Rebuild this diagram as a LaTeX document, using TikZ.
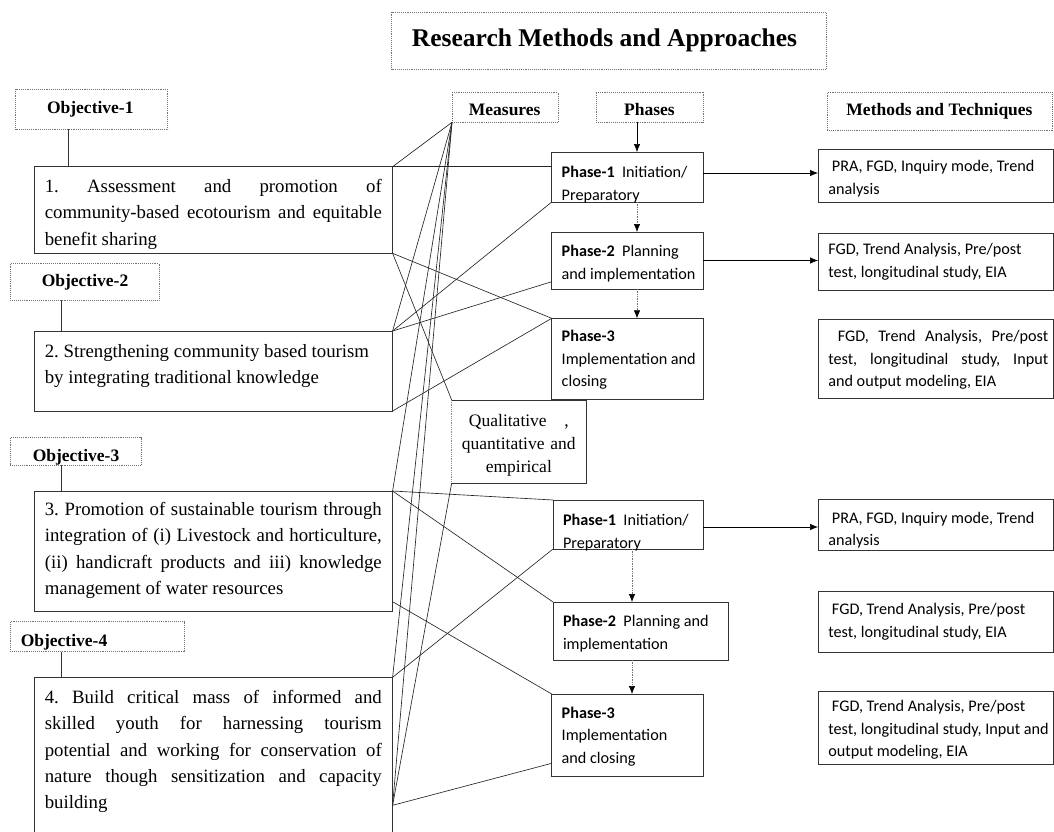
\documentclass[tikz,border=0pt]{standalone}
\usepackage{fontspec}
\setmainfont{Liberation Serif}
\newfontfamily\calfont{Carlito}
\usetikzlibrary{arrows.meta,calc}
\frenchspacing
\begin{document}
\frenchspacing
\begin{tikzpicture}[x=1pt,y=-1pt,
  dotbox/.style={draw=black!55, densely dotted, line width=0.9pt, inner sep=0pt, outer sep=0pt, anchor=north west},
  solbox/.style={draw=black!80, line width=0.9pt, inner sep=0pt, outer sep=0pt, anchor=north west},
  bodytxt/.style={inner sep=0pt, outer sep=0pt, anchor=north west, font=\fontsize{18.8}{26.3}\selectfont\frenchspacing},
  caltxt/.style={inner sep=0pt, outer sep=0pt, anchor=north west, align=flush left, font=\calfont\fontsize{16.2}{22.5}\selectfont},
  lbl/.style={inner sep=0pt, font=\fontsize{17.5}{20}\selectfont\bfseries},
  link/.style={line width=0.65pt, black!85},
  flow/.style={line width=0.7pt, -{Latex[length=8pt,width=6.5pt]}},
  dflow/.style={line width=0.7pt, black!55, densely dotted, -{Latex[length=8pt,width=6.5pt,black]}}
]
\useasboundingbox (0,0) rectangle (1054,831);
\fill[white] (0,0) rectangle (1054,831);

% header boxes
\node[dotbox, minimum width=434.5pt, minimum height=57pt] (title) at (391.5,12.3) {};
\node[inner sep=0pt, font=\fontsize{25.5}{30}\selectfont\bfseries] (titletxt) at (604.5,40) {Research Methods and Approaches};
\node[dotbox, minimum width=106pt, minimum height=30pt] (meas) at (452,92.3) {};
\node[lbl] (meastxt) at (504.7,109.5) {Measures};
\node[dotbox, minimum width=107pt, minimum height=30pt] (phases) at (596,92.3) {};
\node[lbl] (phasestxt) at (649.5,109.5) {Phases};
\node[dotbox, minimum width=225pt, minimum height=38pt] (meth) at (827,92.3) {};
\node[lbl] (methtxt) at (939.5,111) {Methods and Techniques};

% objectives
\node[dotbox, minimum width=152.2pt, minimum height=40pt] (obj1) at (15.5,89.3) {};
\node[lbl] (obj1txt) at (90.3,109) {Objective-1};
\node[dotbox, minimum width=148.7pt, minimum height=36.7pt] (obj2) at (10.3,263.3) {};
\node[lbl] (obj2txt) at (85,282) {Objective-2};
\node[dotbox, minimum width=130.7pt, minimum height=27.3pt] (obj3) at (10.3,437.7) {};
\node[lbl] (obj3txt) at (76,457) {Objective-3};
\node[dotbox, minimum width=173.7pt, minimum height=30pt] (obj4) at (10.3,621.7) {};
\node[lbl] (obj4txt) at (64,642) {Objective-4};

\node[solbox, minimum width=358.2pt, minimum height=86.6pt] (b1) at (34.4,166.7) {};
\node[solbox, minimum width=358.2pt, minimum height=80pt] (b2) at (34.4,331) {};
\node[solbox, minimum width=358.2pt, minimum height=120.7pt] (b3) at (34.4,491) {};
\node[solbox, minimum width=358.2pt, minimum height=155pt] (b4) at (34.4,677.3) {};

\node[bodytxt, text width=337pt, align=justify] (t1) at (44.8,174.2) {\strut 1. Assessment and promotion of\linebreak community-based ecotourism and equitable\linebreak benefit sharing};
\node[bodytxt, text width=337pt, align=flush left] (t2) at (44.8,338.9) {\strut 2. Strengthening community based tourism\\by integrating traditional knowledge};
\node[bodytxt, text width=337pt, align=justify] (t3) at (44.8,497.2) {\strut 3. Promotion of sustainable tourism through\linebreak integration of (i) Livestock and horticulture,\linebreak (ii) handicraft products and iii) knowledge\linebreak management of water resources};
\node[bodytxt, text width=337pt, align=justify] (t4) at (44.8,685.2) {\strut 4. Build critical mass of informed and\linebreak skilled youth for harnessing tourism\linebreak potential and working for conservation of\linebreak nature though sensitization and capacity\linebreak building};

\coordinate (o1x) at (68,0);
\coordinate (o2x) at (61.3,0);
\draw[line width=0.9pt, black!80] (obj1.south -| o1x) -- (b1.north -| o1x);
\draw[line width=0.9pt, black!80] (obj2.south -| o2x) -- (b2.north -| o2x);
\draw[line width=0.9pt, black!80] (obj3.south -| o2x) -- (b3.north -| o2x);
\draw[line width=0.9pt, black!80] (obj4.south -| o2x) -- (b4.north -| o2x);

% phases (upper)
\node[solbox, minimum width=151.3pt, minimum height=50pt] (ph1) at (551.7,152) {};
\node[solbox, minimum width=151.3pt, minimum height=57pt] (ph2) at (551.7,232) {};
\node[solbox, minimum width=151.3pt, minimum height=81pt] (ph3) at (551.7,318.3) {};
\node[caltxt, text width=140pt] (ph1t) at (561.7,161.9) {\strut\textbf{Phase-1}\ \ Initiation/\\Preparatory};
\node[caltxt, text width=140pt] (ph2t) at (561.7,240.9) {\strut\textbf{Phase-2}\ \ Planning\\and implementation};
\node[caltxt, text width=140pt] (ph3t) at (561.7,325.9) {\strut\textbf{Phase-3}\\Implementation and\\closing};

% qualitative box
\node[inner sep=0pt, outer sep=0pt, anchor=north west, minimum width=134.3pt, minimum height=83pt] (qual) at (451.7,400) {};
\draw[line width=0.9pt, black!80] (qual.south west) -- (qual.south east) -- (qual.north east) -- (qual.north west);
\draw[line width=0.8pt, black!45, densely dotted] (qual.north west) -- (qual.south west);
\node[inner sep=0pt, outer sep=0pt, anchor=north, text width=134pt, align=center, font=\fontsize{17.5}{23}\selectfont] (qualt) at (518.8,410.2) {\strut Qualitative\quad ,\\quantitative and\\empirical};

% phases (lower)
\node[solbox, minimum width=150pt, minimum height=49pt] (ph1b) at (553,500) {};
\node[solbox, minimum width=175pt, minimum height=58pt] (ph2b) at (553,602) {};
\node[solbox, minimum width=151.3pt, minimum height=82pt] (ph3b) at (551.7,694) {};
\node[caltxt, text width=140pt] (ph1bt) at (563,509.9) {\strut\textbf{Phase-1}\ \ Initiation/\\Preparatory};
\node[caltxt, text width=165pt] (ph2bt) at (563,610.9) {\strut\textbf{Phase-2}\ \ Planning and\\implementation};
\node[caltxt, text width=140pt] (ph3bt) at (561.7,702.5) {\strut\textbf{Phase-3}\\Implementation\\and closing};

% methods boxes
\node[solbox, minimum width=235pt, minimum height=53pt] (m1) at (818,149) {};
\node[solbox, minimum width=235pt, minimum height=57pt] (m2) at (818,233) {};
\node[solbox, minimum width=235pt, minimum height=79pt] (m3) at (818,319.3) {};
\node[solbox, minimum width=235pt, minimum height=51pt] (m1b) at (818,499) {};
\node[solbox, minimum width=235pt, minimum height=61pt] (m2b) at (818,591) {};
\node[solbox, minimum width=235pt, minimum height=73pt] (m3b) at (818,691) {};
\node[caltxt, text width=226pt] (m1t) at (828.3,155.9) {\strut\ PRA, FGD, Inquiry mode, Trend\\analysis};
\node[caltxt, text width=226pt] (m2t) at (828.3,239.2) {\strut FGD, Trend Analysis, Pre/post\\test, longitudinal study, EIA};
\node[caltxt, text width=220pt, align=justify] (m3t) at (828.3,325.9) {\strut\ FGD, Trend Analysis, Pre/post\linebreak test, longitudinal study, Input\linebreak and output modeling, EIA};
\node[caltxt, text width=226pt] (m1bt) at (828.3,507.5) {\strut\ PRA, FGD, Inquiry mode, Trend\\analysis};
\node[caltxt, text width=226pt] (m2bt) at (828.3,599.2) {\strut\ FGD, Trend Analysis, Pre/post\\test, longitudinal study, EIA};
\node[caltxt, text width=226pt] (m3bt) at (828.3,695.9) {\strut\ FGD, Trend Analysis, Pre/post\\test, longitudinal study, Input and\\output modeling, EIA};

% arrows between phases
\coordinate (ax) at (637,0);
\coordinate (bx) at (632,0);
\draw[flow, line width=0.6pt] (phases.south -| ax) -- (ph1.north -| ax);
\draw[dflow] (ph1.south -| ax) -- (ph2.north -| ax);
\draw[dflow] (ph2.south -| ax) -- (ph3.north -| ax);
\draw[dflow] (ph1b.south -| bx) -- (ph2b.north -| bx);
\draw[dflow] (ph2b.south -| bx) -- (ph3b.north -| bx);

\coordinate (a1) at ([yshift=4pt]ph1.east);
\coordinate (a2) at (ph2.east);
\coordinate (a3) at ([yshift=-2.5pt]ph1b.east);
\draw[flow] (a1) -- (a1 -| m1.west);
\draw[flow] (a2) -- (a2 -| m2.west);
\draw[flow] (a3) -- (a3 -| m1b.west);

% connector web
\coordinate (M) at (meas.south west);
\coordinate (P4) at ([yshift=-128pt]b4.north east);
\coordinate (B3R) at ([yshift=10pt]b3.south east);
\coordinate (P2L) at ([yshift=7.3pt]ph2.south west);
\coordinate (P3bL) at ([yshift=12.7pt]ph3b.south west);
\draw[link] (M) -- (b1.north east);
\draw[link] (M) -- (b2.north east);
\draw[link] (M) -- (b3.north east);
\draw[link] (M) -- (b4.north east);
\draw[link] (M) -- (P4);
\draw[link] (b1.north east) -- (b1.north east -| ph1.west);
\draw[link] (b1.south east) -- (ph3.north west);
\draw[link] (b1.south east) -- (qual.north west);
\draw[link] (qual.south west) -- (P4);
\draw[link] (b2.north east) -- (ph1.south west);
\draw[link] (b2.north east) -- (P2L);
\draw[link] (b2.south east) -- (ph3.north west);
\draw[link] (b3.north east) -- (ph1b.north west);
\draw[link] (b3.north east) -- (ph2b.north west);
\draw[link] (B3R) -- (ph3b.north west);
\draw[link] (b4.north east) -- (ph1b.south west);
\draw[link] (P4) -- (P3bL);
\end{tikzpicture}
\end{document}
